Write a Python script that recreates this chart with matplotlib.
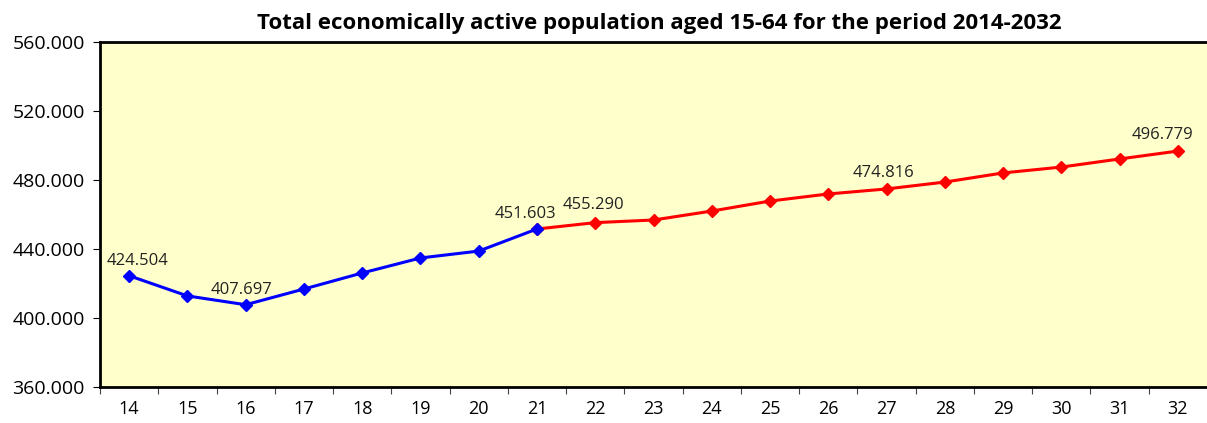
import matplotlib
matplotlib.use('Agg')
import matplotlib.pyplot as plt

years = [14, 15, 16, 17, 18, 19, 20, 21, 22, 23, 24, 25, 26, 27, 28, 29, 30, 31, 32]
actual = [424504, 412800, 407697, 416800, 426100, 434800, 438800, 451603]
projected = [451603, 455290, 456800, 462000, 467800, 471900, 474816, 478800,
             484100, 487500, 492200, 496779]
labelled = {14: 424504, 16: 407697, 21: 451603, 22: 455290, 27: 474816, 32: 496779}
yticks = [360000, 400000, 440000, 480000, 520000, 560000]

plt.rcParams['font.family'] = ['Open Sans', 'DejaVu Sans']

fig = plt.figure(figsize=(12.07, 4.23), dpi=100)
ax = fig.add_axes([100 / 1207, 36 / 423, 1107 / 1207, 345 / 423])
ax.set_facecolor('#FFFFCC')

xa = list(range(len(actual)))
xp = list(range(len(actual) - 1, len(years)))
ax.plot(xp, projected, color='#FF0000', lw=2.2, marker='D', ms=6.5, zorder=3)
ax.plot(xa, actual, color='#0000FF', lw=2.2, marker='D', ms=6.5, zorder=4)

# offsets in points, tuned by eye
offsets = {14: (6, 5), 16: (-3, 5), 21: (-8, 5), 22: (-1, 7), 27: (-2, 6), 32: (-11, 6)}
for yr, v in labelled.items():
    i = years.index(yr)
    ax.annotate(f"{v / 1000:.3f}", (i, v), xytext=offsets[yr], textcoords='offset points',
                ha='center', va='bottom', fontsize=12, color='#222222')

ax.set_xlim(-0.5, len(years) - 0.5)
ax.set_ylim(360000, 560000)
ax.set_yticks(yticks)
ax.set_yticklabels([f"{t / 1000:.3f}" for t in yticks], fontsize=14)

ax.set_xticks([i - 0.5 for i in range(len(years))])
ax.set_xticklabels([])
ax.set_xticks(range(len(years)), minor=True)
ax.set_xticklabels([str(y) for y in years], minor=True, fontsize=13)
ax.tick_params(axis='x', which='minor', length=0, pad=9)
ax.tick_params(axis='x', which='major', length=5, color='#444444')
ax.tick_params(axis='y', length=5, pad=6)

for s in ['left', 'bottom', 'top']:
    ax.spines[s].set_linewidth(2)
    ax.spines[s].set_color('black')
ax.spines['right'].set_visible(False)

fig.text(0.546, 0.945, "Total economically active population aged 15-64 for the period 2014-2032",
         ha='center', va='center', fontsize=16, fontweight='bold')

plt.savefig("out.png", dpi=100)
plt.close()
